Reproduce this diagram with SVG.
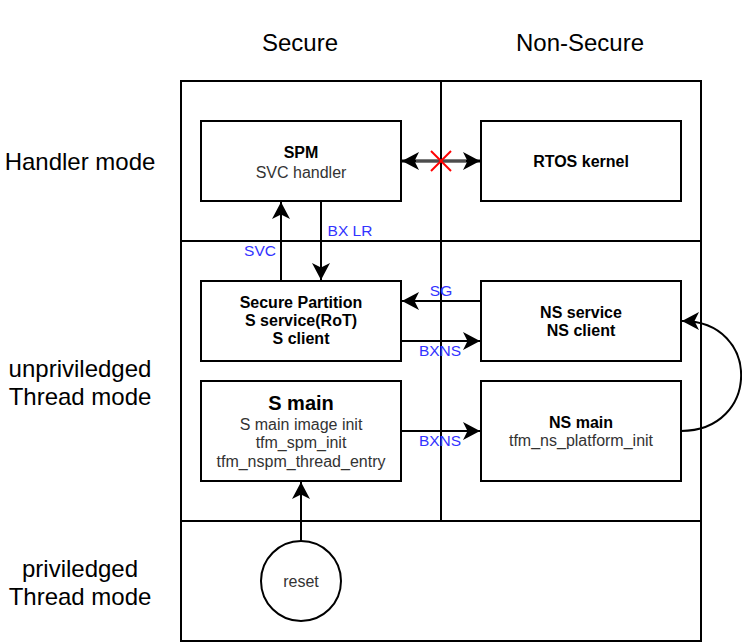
<svg xmlns="http://www.w3.org/2000/svg" width="742" height="642" viewBox="0 0 742 642">
<style>
.t{font-family:"Liberation Sans",Arial,sans-serif;text-anchor:middle;dominant-baseline:central}
.big{font-size:24px;fill:#000}
.b{font-size:16px;font-weight:bold;fill:#000}
.n{font-size:16px;fill:#333}
.lbl{font-size:15.5px;fill:#3333ff}
.box{fill:#fff;stroke:#000;stroke-width:2}
.grid{fill:none;stroke:#000;stroke-width:2}
.e{fill:none;stroke:#000;stroke-width:2}
</style>
<defs>
<marker id="ah" viewBox="0 0 17 18" refX="17" refY="9" markerWidth="17" markerHeight="18" orient="auto-start-reverse" markerUnits="userSpaceOnUse">
<path d="M0,0 L17,9 L0,18 L4.5,9 Z" fill="#000"/>
</marker>
</defs>
<rect width="742" height="642" fill="#fff"/>
<g id="headers">
<text class="t big" x="300" y="42">Secure</text>
<text class="t big" x="580" y="42">Non-Secure</text>
<text class="t big" x="80" y="161">Handler mode</text>
<text class="t big" x="80" y="368">unpriviledged</text>
<text class="t big" x="80" y="396">Thread mode</text>
<text class="t big" x="80" y="568">priviledged</text>
<text class="t big" x="80" y="596">Thread mode</text>
</g>
<g id="grid">
<rect class="grid" x="181" y="81" width="520" height="560"/>
<line class="grid" x1="441" y1="81" x2="441" y2="521"/>
<line class="grid" x1="181" y1="241" x2="701" y2="241"/>
<line class="grid" x1="181" y1="521" x2="701" y2="521"/>
</g>
<g id="connectors">
<line x1="402" y1="161" x2="480" y2="161" stroke="#000" stroke-width="3" marker-start="url(#ah)" marker-end="url(#ah)"/>
<line x1="416" y1="161" x2="466" y2="161" stroke="#999" stroke-width="1"/>
<line x1="281" y1="281" x2="281" y2="202" class="e" marker-end="url(#ah)"/>
<line x1="321" y1="201" x2="321" y2="280" class="e" marker-end="url(#ah)"/>
<line x1="481" y1="301" x2="402" y2="301" class="e" marker-end="url(#ah)"/>
<line x1="401" y1="341" x2="480" y2="341" class="e" marker-end="url(#ah)"/>
<line x1="401" y1="431" x2="480" y2="431" class="e" marker-end="url(#ah)"/>
<line x1="301" y1="541" x2="301" y2="482" class="e" marker-end="url(#ah)"/>
<path d="M681,431 C760,431 762,321 682,321" class="e" marker-end="url(#ah)"/>
<g stroke="#ff0000" stroke-width="2">
<line x1="431" y1="151" x2="451" y2="171"/>
<line x1="451" y1="151" x2="431" y2="171"/>
</g>
<text class="t lbl" x="260" y="250">SVC</text>
<text class="t lbl" x="350" y="230">BX LR</text>
<text class="t lbl" x="441" y="290">SG</text>
<text class="t lbl" x="440" y="350">BXNS</text>
<text class="t lbl" x="440" y="440">BXNS</text>
</g>
<g id="spm">
<rect class="box" x="201" y="121" width="200" height="80"/>
<text class="t b" x="301" y="152">SPM</text>
<text class="t n" x="301" y="172">SVC handler</text>
</g>
<g id="rtos">
<rect class="box" x="481" y="121" width="200" height="80"/>
<text class="t b" x="581" y="161">RTOS kernel</text>
</g>
<g id="secure-partition">
<rect class="box" x="201" y="281" width="200" height="80"/>
<text class="t b" x="301" y="302">Secure Partition</text>
<text class="t b" x="301" y="320">S service(RoT)</text>
<text class="t b" x="301" y="338">S client</text>
</g>
<g id="ns-service">
<rect class="box" x="481" y="281" width="200" height="80"/>
<text class="t b" x="581" y="312">NS service</text>
<text class="t b" x="581" y="330">NS client</text>
</g>
<g id="s-main">
<rect class="box" x="201" y="381" width="200" height="100"/>
<text class="t b" x="301" y="403" style="font-size:20px">S main</text>
<text class="t n" x="301" y="424">S main image init</text>
<text class="t n" x="301" y="442">tfm_spm_init</text>
<text class="t n" x="301" y="461">tfm_nspm_thread_entry</text>
</g>
<g id="ns-main">
<rect class="box" x="481" y="381" width="200" height="100"/>
<text class="t b" x="581" y="422">NS main</text>
<text class="t n" x="581" y="440">tfm_ns_platform_init</text>
</g>
<g id="reset">
<circle class="box" cx="301" cy="581" r="40"/>
<text class="t n" x="301" y="581">reset</text>
</g>
</svg>
